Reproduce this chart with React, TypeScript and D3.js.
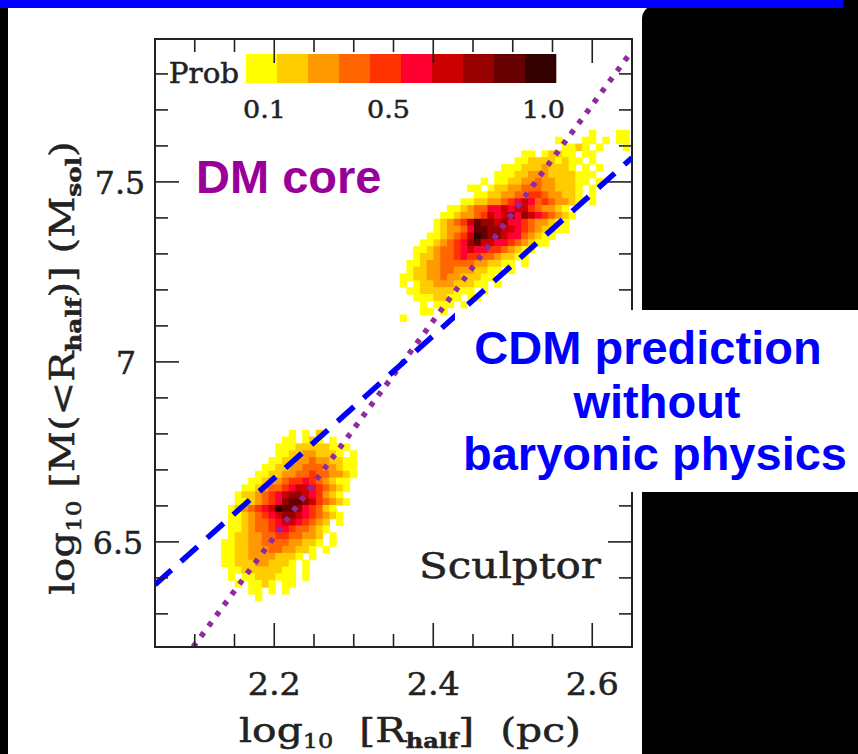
import React, { useRef, useEffect } from "react";
import * as d3 from "d3";

// probability colour levels (legend boxes, 0.1 .. 1.0)
const probColors = [
  "#FFFF00", "#FFCC00", "#FF9900", "#FF6600", "#FF3300",
  "#FF0033", "#CC0000", "#990000", "#660000", "#330000",
];
const probTicks = [0.1, 0.5, 1.0];
const probTickLabels = ["0.1", "0.5", "1.0"];

const xDomain = [2.05, 2.65];
const yDomain = [6.208, 7.897];
const xMajorTicks = [2.2, 2.4, 2.6];
const xTickLabels = ["2.2", "2.4", "2.6"];
const yMajorTicks = [6.5, 7, 7.5];
const yTickLabels = ["6.5", "7", "7.5"];

// 2D histogram bins, rows from top to bottom, one char per bin:
// '.' empty, '1'..'9' level, 'A' = 10
const binDx = 0.0085;
const binDy = 0.019;

const metalRichOrigin = [2.125, 6.811];
const metalRichRows = [
  "...........1.1.2",
  "..........11.121.1",
  ".........11122222111",
  ".........1122332221.1",
  "........1122334332211",
  ".......11223344433211",
  "......112233445443321",
  ".....112334556543211",
  "....1123445677654321",
  "...1223456788765321",
  "...11234568998754321",
  "..1234567A99865421",
  "..11234567887654321",
  "..112344567765432.1",
  "..112344566544321",
  "..12233445544332.1",
  ".112233444433221.1",
  ".11223334433221.1",
  ".112233332221.1",
  ".11222332221.1",
  "..1122222211.1",
  "..1.11222111.1",
  "...1.1121.11",
  ".....11.1.1",
  "......1",
];

const metalPoorOrigin = [2.358, 7.644];
const metalPoorRows = [
  "............................1...11",
  ".......................1...11.1.11",
  "........................1121.1...1",
  "..................11.12211.11",
  ".................1122221211.1",
  "...............11122232221.1.1",
  "..............111223332222111",
  "............1.11223343322211.1",
  "..........11.12233444332221.1",
  "...........1122334455433221.1",
  ".........112233456764543321.1",
  ".......112344667677543321",
  "......11233457678687654321",
  ".....12345798878665433211",
  ".....12334699887765432211",
  "....1123457A98876643211",
  "...1123456897766543211",
  "..112344567665543211",
  "..12234456554432211",
  ".1123344444332211.1",
  ".12233443332211.1",
  "11223343322211",
  "1.12233322211.1",
  ".1122222111.1",
  "..1112211.11",
  "...1.111.1",
  "...11.1",
  "1",
];

// model relations
const cdmPrediction: [number, number][] = [[2.05, 6.381], [2.65, 7.567]];
const coreRelation: [number, number][] = [[2.098, 6.208], [2.65, 7.864]];

const W = 858;
const H = 754;
const serif = "'DejaVu Serif', serif";
const sans = "'Liberation Sans', Arial, sans-serif";
const ink = "#222";

const App: React.FC = () => {
  const svgRef = useRef<SVGSVGElement>(null);

  useEffect(() => {
    if (!svgRef.current) return;
    const svg = d3.select(svgRef.current);
    svg.selectAll("*").remove();

    const left = 155, top = 39, right = 632, bottom = 647;
    const x = d3.scaleLinear().domain(xDomain).range([left, right]);
    const y = d3.scaleLinear().domain(yDomain).range([bottom, top]);

    // slide background
    svg.append("rect").attr("width", W).attr("height", H).attr("fill", "#000");
    svg.append("rect").attr("x", 8).attr("y", 8).attr("width", W - 8).attr("height", H - 8).attr("fill", "#fff");
    svg.append("rect").attr("x", 642).attr("y", 5).attr("width", 260).attr("height", 800).attr("rx", 14).attr("fill", "#000");
    svg.append("rect").attr("x", 0).attr("y", 0).attr("width", 843).attr("height", 8).attr("fill", "#0000FF");

    svg.append("clipPath").attr("id", "plot-clip")
      .append("rect").attr("x", left).attr("y", top).attr("width", right - left).attr("height", bottom - top);

    const plot = svg.append("g").attr("clip-path", "url(#plot-clip)");

    const levelOf = (ch: string) => (ch === "A" ? 10 : Number(ch));
    const drawCells = (origin: number[], rows: string[]) => {
      const cells: { c: number; r: number; lev: number }[] = [];
      rows.forEach((row, r) => {
        row.split("").forEach((ch, c) => {
          if (ch !== ".") cells.push({ c, r, lev: levelOf(ch) });
        });
      });
      plot.append("g")
        .selectAll("rect")
        .data(cells)
        .enter()
        .append("rect")
        .attr("x", (d) => x(origin[0] + d.c * binDx) - 0.2)
        .attr("y", (d) => y(origin[1] - d.r * binDy) - 0.2)
        .attr("width", x(binDx) - x(0) + 0.6)
        .attr("height", y(0) - y(binDy) + 0.6)
        .attr("fill", (d) => probColors[d.lev - 1]);
    };
    drawCells(metalRichOrigin, metalRichRows);
    drawCells(metalPoorOrigin, metalPoorRows);

    const line = d3.line<[number, number]>().x((d) => x(d[0])).y((d) => y(d[1]));
    plot.append("path")
      .attr("d", line(coreRelation))
      .attr("fill", "none")
      .attr("stroke", "#8f2a9f")
      .attr("stroke-width", 5.5)
      .attr("stroke-dasharray", "5 8");
    plot.append("path")
      .attr("d", line(cdmPrediction))
      .attr("fill", "none")
      .attr("stroke", "#0000FF")
      .attr("stroke-width", 5.5)
      .attr("stroke-dasharray", "22 13");

    // colour bar
    const cb = d3.scaleLinear().domain([0, 1]).range([246, 556]);
    svg.append("g")
      .selectAll("rect")
      .data(probColors)
      .enter()
      .append("rect")
      .attr("x", (_, i) => cb(i / 10))
      .attr("y", 54)
      .attr("width", (_, i) => cb((i + 1) / 10) - cb(i / 10) + 0.3)
      .attr("height", 29)
      .attr("fill", (d) => d);

    const stretched = (px: number, py: number, size: number, sx: number, rot = 0) =>
      svg.append("text")
        .attr("transform", `translate(${px},${py})${rot ? ` rotate(${rot})` : ""} scale(${sx},1)`)
        .attr("text-anchor", "middle")
        .attr("font-family", serif)
        .attr("font-size", size)
        .attr("fill", ink)
        .attr("stroke", ink)
        .attr("stroke-width", 0.5)
        .style("white-space", "pre");

    probTicks.forEach((p, i) => {
      stretched(cb(p - 0.05) + 3, 118, 25, 1.08).text(probTickLabels[i]);
    });
    stretched(204, 83, 28, 1.05).text("Prob");

    // frame and ticks
    svg.append("rect")
      .attr("x", left).attr("y", top)
      .attr("width", right - left).attr("height", bottom - top)
      .attr("fill", "none").attr("stroke", ink).attr("stroke-width", 2);

    const ticks = svg.append("g").attr("stroke", ink).attr("stroke-width", 1.6);
    const isMajor = (v: number, list: number[]) => list.some((m) => Math.abs(m - v) < 1e-6);
    d3.range(2.1, 2.651, 0.05).forEach((v) => {
      const len = isMajor(v, xMajorTicks) ? 24 : 13;
      ticks.append("line").attr("x1", x(v)).attr("x2", x(v)).attr("y1", bottom).attr("y2", bottom - len);
      ticks.append("line").attr("x1", x(v)).attr("x2", x(v)).attr("y1", top).attr("y2", top + len);
    });
    d3.range(6.3, 7.85, 0.1).forEach((v) => {
      const len = isMajor(v, yMajorTicks) ? 24 : 13;
      ticks.append("line").attr("y1", y(v)).attr("y2", y(v)).attr("x1", left).attr("x2", left + len);
      ticks.append("line").attr("y1", y(v)).attr("y2", y(v)).attr("x1", right).attr("x2", right - len);
    });

    // tick labels
    xMajorTicks.forEach((v, i) => stretched(x(v), 695, 31, 1.08).text(xTickLabels[i]));
    const yLabelX = [118, 126, 120];
    yMajorTicks.forEach((v, i) => stretched(yLabelX[i], y(v) + 12, 31, 1.02).text(yTickLabels[i]));

    // axis titles
    const xt = stretched(410, 742, 34, 1.2);
    xt.append("tspan").text("log");
    xt.append("tspan").attr("font-size", 20).attr("dy", 6).text("10");
    xt.append("tspan").attr("dy", -6).text("  [R");
    xt.append("tspan").attr("font-size", 20).attr("font-weight", "bold").attr("dy", 6).text("half");
    xt.append("tspan").attr("dy", -6).text("]  (pc)");

    const yt = stretched(74, 368, 34, 1.18, -90);
    yt.append("tspan").text("log");
    yt.append("tspan").attr("font-size", 21).attr("dy", 7).text("10");
    yt.append("tspan").attr("dy", -7).text(" [M(<R");
    yt.append("tspan").attr("font-size", 21).attr("font-weight", "bold").attr("dy", 7).text("half");
    yt.append("tspan").attr("dy", -7).text(")] (M");
    yt.append("tspan").attr("font-size", 21).attr("font-weight", "bold").attr("dy", 7).text("sol");
    yt.append("tspan").attr("dy", -7).text(")");

    stretched(510, 578, 35, 1.2).text("Sculptor");

    // annotations
    svg.append("text")
      .attr("x", 196).attr("y", 193)
      .attr("font-family", sans).attr("font-weight", "bold").attr("font-size", 47)
      .attr("fill", "#990099")
      .text("DM core");

    svg.append("rect").attr("x", 455).attr("y", 310).attr("width", W - 455).attr("height", 182).attr("fill", "#fff");
    const cdmLines = ["CDM prediction", "without", "baryonic physics"];
    const cdmX = [648, 657, 655];
    const cdmY = [364, 418, 470];
    cdmLines.forEach((s, i) => {
      svg.append("text")
        .attr("x", cdmX[i]).attr("y", cdmY[i])
        .attr("text-anchor", "middle")
        .attr("font-family", sans).attr("font-weight", "bold").attr("font-size", 47)
        .attr("fill", "#0000FF")
        .text(s);
    });
  }, []);

  return (
    <svg
      ref={svgRef}
      width={W}
      height={H}
      style={{ position: "absolute", left: 0, top: 0, display: "block" }}
    ></svg>
  );
};

export default App;
